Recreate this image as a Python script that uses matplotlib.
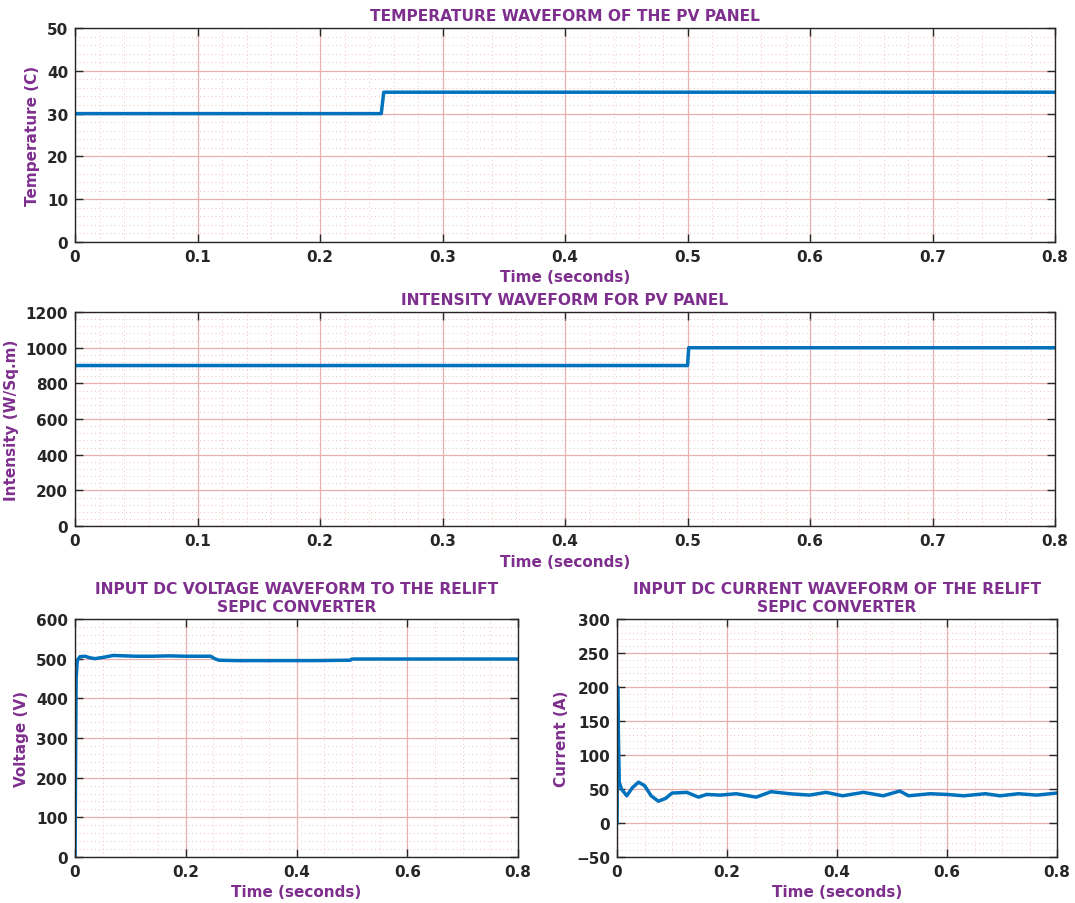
import matplotlib
matplotlib.use("Agg")
import matplotlib.pyplot as plt
from matplotlib.ticker import MultipleLocator

# step inputs of the PV panel
temp_t = [0, 0.25, 0.252, 0.8]
temp_c = [30, 30, 35, 35]

irr_t = [0, 0.5, 0.501, 0.8]
irr_w = [900, 900, 1000, 1000]

# converter input voltage
volt_t = [0, 0.001, 0.002, 0.004, 0.009, 0.018, 0.027, 0.036, 0.05, 0.069,
          0.09, 0.11, 0.14, 0.17, 0.2, 0.245, 0.252, 0.26, 0.29, 0.35,
          0.43, 0.497, 0.50, 0.6, 0.7, 0.8]
volt_v = [0, 250, 450, 495, 505, 506, 502, 500, 503, 508,
          507, 506, 506, 507, 506, 506, 500, 496, 495, 495,
          495, 496, 499, 499, 499, 499]

# converter input current
curr_t = [0, 0.001, 0.002, 0.004, 0.008, 0.0176, 0.028, 0.039, 0.05, 0.062,
          0.075, 0.088, 0.10, 0.127, 0.148, 0.163, 0.187, 0.217, 0.253, 0.28,
          0.314, 0.35, 0.38, 0.41, 0.448, 0.484, 0.514, 0.53, 0.569, 0.6,
          0.63, 0.67, 0.696, 0.73, 0.763, 0.8]
curr_a = [0, 200, 150, 60, 50, 40, 52, 60, 55, 40,
          32, 36, 44, 45, 38, 42, 41, 43, 38, 46,
          43, 41, 45, 40, 45, 40, 47, 40, 43, 42,
          40, 43, 40, 43, 41, 44]

purple = "#7E2F8E"
blue = "#0072BD"

plt.rcParams["font.family"] = "DejaVu Sans"
plt.rcParams["font.weight"] = "bold"


def style(ax, xmin_step, ymin_step):
    ax.xaxis.set_minor_locator(MultipleLocator(xmin_step))
    ax.yaxis.set_minor_locator(MultipleLocator(ymin_step))
    ax.grid(True, which="major", color="#eab0b0", lw=0.9)
    ax.grid(True, which="minor", color="#f2c0c0", lw=0.7, ls=(0, (1, 3)))
    ax.tick_params(which="major", direction="in", length=6, width=1,
                   top=True, right=True, labelsize=11, colors="#262626",
                   pad=5)
    ax.tick_params(which="minor", length=0)
    for s in ax.spines.values():
        s.set_color("#262626")
        s.set_linewidth(1)
    ax.set_axisbelow(True)


def labels(ax, title, ylabel):
    ax.set_title(title, color=purple, fontsize=11.2, fontweight="bold", pad=6)
    ax.set_xlabel("Time (seconds)", color=purple, fontsize=11,
                  fontweight="bold", labelpad=4)
    ax.set_ylabel(ylabel, color=purple, fontsize=11, fontweight="bold",
                  labelpad=5)


fig = plt.figure(figsize=(10.75, 9.04), dpi=100)

ax1 = fig.add_axes([0.0698, 0.7312, 0.9116, 0.2367])
ax1.plot(temp_t, temp_c, color=blue, lw=2.5)
ax1.set_xlim(0, 0.8)
ax1.set_ylim(0, 50)
ax1.set_xticks([0, 0.1, 0.2, 0.3, 0.4, 0.5, 0.6, 0.7, 0.8])
ax1.set_xticklabels(["0", "0.1", "0.2", "0.3", "0.4", "0.5", "0.6", "0.7", "0.8"])
ax1.set_yticks(range(0, 51, 10))
style(ax1, 0.02, 2)
labels(ax1, "TEMPERATURE WAVEFORM OF THE PV PANEL", "Temperature (C)")

ax2 = fig.add_axes([0.0698, 0.4170, 0.9116, 0.2367])
ax2.plot(irr_t, irr_w, color=blue, lw=2.5)
ax2.set_xlim(0, 0.8)
ax2.set_ylim(0, 1200)
ax2.set_xticks([0, 0.1, 0.2, 0.3, 0.4, 0.5, 0.6, 0.7, 0.8])
ax2.set_xticklabels(["0", "0.1", "0.2", "0.3", "0.4", "0.5", "0.6", "0.7", "0.8"])
ax2.set_yticks(range(0, 1201, 200))
style(ax2, 0.02, 40)
labels(ax2, "INTENSITY WAVEFORM FOR PV PANEL", "Intensity (W/Sq.m)")

ax3 = fig.add_axes([0.0698, 0.0509, 0.4121, 0.2633])
ax3.plot(volt_t, volt_v, color=blue, lw=2.5)
ax3.set_xlim(0, 0.8)
ax3.set_ylim(0, 600)
ax3.set_xticks([0, 0.2, 0.4, 0.6, 0.8])
ax3.set_xticklabels(["0", "0.2", "0.4", "0.6", "0.8"])
ax3.set_yticks(range(0, 601, 100))
style(ax3, 0.05, 20)
labels(ax3, "INPUT DC VOLTAGE WAVEFORM TO THE RELIFT\nSEPIC CONVERTER",
       "Voltage (V)")

ax4 = fig.add_axes([0.5740, 0.0509, 0.4093, 0.2633])
ax4.plot(curr_t, curr_a, color=blue, lw=2.5)
ax4.set_xlim(0, 0.8)
ax4.set_ylim(-50, 300)
ax4.set_xticks([0, 0.2, 0.4, 0.6, 0.8])
ax4.set_xticklabels(["0", "0.2", "0.4", "0.6", "0.8"])
ax4.set_yticks(range(-50, 301, 50))
style(ax4, 0.05, 10)
labels(ax4, "INPUT DC CURRENT WAVEFORM OF THE RELIFT\nSEPIC CONVERTER",
       "Current (A)")

fig.savefig("out.png", dpi=100)
